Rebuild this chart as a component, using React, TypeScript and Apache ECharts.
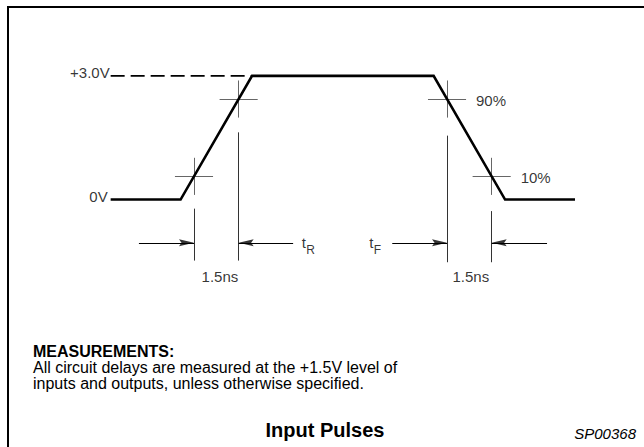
import { useEffect, useRef } from "react";
import * as echarts from "echarts";

// time axis in ns, voltage axis in V
const waveTime = [-2.35, 0, 2.4, 8.5, 10.9, 13.25];
const waveVolt = [0, 0, 3, 3, 0, 0];
const levelNames = ["+3.0V", "0V"];
const levelVolts = [3.0, 0];
const dashFrom = -2.35;
const dashTo = 2.4;
const markTime = [0.45, 1.95, 8.95, 10.45];
const markVolt = [0.5625, 2.4375, 2.4375, 0.5625];
const markNames = ["", "", "90%", "10%"];
const crossHalfTime = 0.64;
const crossHalfVolt = 0.45;
const guideTop = [-0.22, 1.63, 1.55, -0.28];
const guideBottom = [-1.48, -1.48, -1.52, -1.52];
const arrowVolt = -1.05;
const arrowTail = [-1.4, 3.78, 7.11, 12.31];
const edgeNames = ["R", "F"];
const widthText = ["1.5ns", "1.5ns"];
const widthTextTime = [1.32, 9.75];
const widthTextVolt = -1.86;
const noteTitle = "MEASUREMENTS:";
const noteLines = [
  "All circuit delays are measured at the +1.5V level of",
  "inputs and outputs, unless otherwise specified.",
];
const chartTitle = "Input Pulses";
const figureId = "SP00368";

const FONT = "'Liberation Sans', Arial, Helvetica, sans-serif";
const HEAD_RIGHT = "path://M0,0 L15,3.5 L0,7 L2.5,3.5 Z";
const HEAD_LEFT = "path://M15,0 L0,3.5 L15,7 L12.5,3.5 Z";

function lbl(
  value: number[],
  text: string,
  align: string,
  offset: number[],
  fontSize = 15
) {
  return {
    value,
    label: {
      show: true,
      formatter: text,
      position: "inside",
      align,
      verticalAlign: "middle",
      offset,
      fontSize,
      color: "#000",
      fontFamily: FONT,
    },
  };
}

export default function App() {
  const ref = useRef<HTMLDivElement>(null);

  useEffect(() => {
    if (!ref.current) return;
    const chart = echarts.init(ref.current, undefined, { renderer: "svg" });

    const crossSegs = markTime.flatMap((t, i) => [
      { coords: [[t - crossHalfTime, markVolt[i]], [t + crossHalfTime, markVolt[i]]] },
      { coords: [[t, markVolt[i] - crossHalfVolt], [t, markVolt[i] + crossHalfVolt]] },
    ]);
    const guideSegs = markTime.map((t, i) => ({
      coords: [[t, guideTop[i]], [t, guideBottom[i]]],
    }));
    const shaftSegs = markTime.map((t, i) => ({
      coords: [[arrowTail[i], arrowVolt], [t, arrowVolt]],
    }));
    const heads = markTime.map((t, i) => {
      const right = arrowTail[i] < t;
      return {
        value: [t, arrowVolt],
        symbol: right ? HEAD_RIGHT : HEAD_LEFT,
        symbolOffset: [right ? -7.5 : 7.5, 0],
      };
    });

    const labels: any[] = [];
    levelNames.forEach((n, i) =>
      labels.push(lbl([dashFrom, levelVolts[i]], n, "right", i === 0 ? [-1, -3] : [-3, -3]))
    );
    markNames.forEach((n, i) => {
      if (n) labels.push(lbl([markTime[i], markVolt[i]], n, "left", [29, 1]));
    });
    // t_R at tail of second arrow, t_F left of third arrow tail
    labels.push(lbl([arrowTail[1], arrowVolt], "t", "left", [8.5, 0]));
    labels.push(lbl([arrowTail[1], arrowVolt], edgeNames[0], "left", [13, 7], 12));
    labels.push(lbl([arrowTail[2], arrowVolt], "t", "left", [-23, 0]));
    labels.push(lbl([arrowTail[2], arrowVolt], edgeNames[1], "left", [-18.5, 7], 12));
    widthText.forEach((w, i) =>
      labels.push(lbl([widthTextTime[i], widthTextVolt], w, "center", [0, 0]))
    );

    chart.setOption({
      animation: false,
      backgroundColor: "#fff",
      grid: { left: 2, width: 640, top: 1.6, height: 446.4 },
      xAxis: { type: "value", min: -6, max: 15.5, show: false },
      yAxis: { type: "value", min: -6, max: 4.8, show: false },
      series: [
        {
          type: "line",
          data: [
            [dashFrom, levelVolts[0]],
            [dashTo, levelVolts[0]],
          ],
          symbol: "none",
          lineStyle: { color: "#000", width: 1.8, type: [14, 6] },
          silent: true,
        },
        {
          type: "line",
          data: waveTime.map((t, i) => [t, waveVolt[i]]),
          symbol: "none",
          lineStyle: { color: "#000", width: 2.6, join: "miter" },
          silent: true,
        },
        {
          type: "lines",
          coordinateSystem: "cartesian2d",
          data: crossSegs,
          lineStyle: { color: "#666", width: 1, opacity: 1 },
          silent: true,
        },
        {
          type: "lines",
          coordinateSystem: "cartesian2d",
          data: guideSegs,
          lineStyle: { color: "#333", width: 1, opacity: 1 },
          silent: true,
        },
        {
          type: "lines",
          coordinateSystem: "cartesian2d",
          data: shaftSegs,
          lineStyle: { color: "#000", width: 1, opacity: 1 },
          silent: true,
        },
        {
          type: "scatter",
          data: heads,
          symbolSize: [15, 7],
          itemStyle: { color: "#000" },
          silent: true,
        },
        {
          type: "scatter",
          data: labels,
          symbolSize: 0,
          itemStyle: { color: "rgba(0,0,0,0)" },
          silent: true,
        },
      ],
      graphic: [
        {
          type: "rect",
          silent: true,
          shape: { x: 8, y: 7, width: 720, height: 520 },
          style: { fill: "none", stroke: "#000", lineWidth: 2 },
        },
        {
          type: "text",
          x: 33,
          y: 351,
          style: {
            text: noteTitle,
            fontFamily: FONT,
            fontWeight: "bold",
            fontSize: 16,
            fill: "#000",
            verticalAlign: "middle",
          },
        },
        ...noteLines.map((t, i) => ({
          type: "text",
          x: 33,
          y: 367 + i * 16,
          style: {
            text: t,
            fontFamily: FONT,
            fontSize: 16,
            fill: "#000",
            verticalAlign: "middle",
          },
        })),
        {
          type: "text",
          x: 325,
          y: 430,
          style: {
            text: chartTitle,
            fontFamily: FONT,
            fontWeight: "bold",
            fontSize: 20,
            fill: "#000",
            align: "center",
            verticalAlign: "middle",
          },
        },
        {
          type: "text",
          x: 636,
          y: 433,
          style: {
            text: figureId,
            fontFamily: FONT,
            fontStyle: "italic",
            fontSize: 15,
            fill: "#000",
            align: "right",
            verticalAlign: "middle",
          },
        },
      ],
    });

    return () => chart.dispose();
  }, []);

  return (
    <div
      ref={ref}
      style={{ position: "absolute", left: 0, top: 0, width: 644, height: 447, background: "#fff" }}
    />
  );
}
